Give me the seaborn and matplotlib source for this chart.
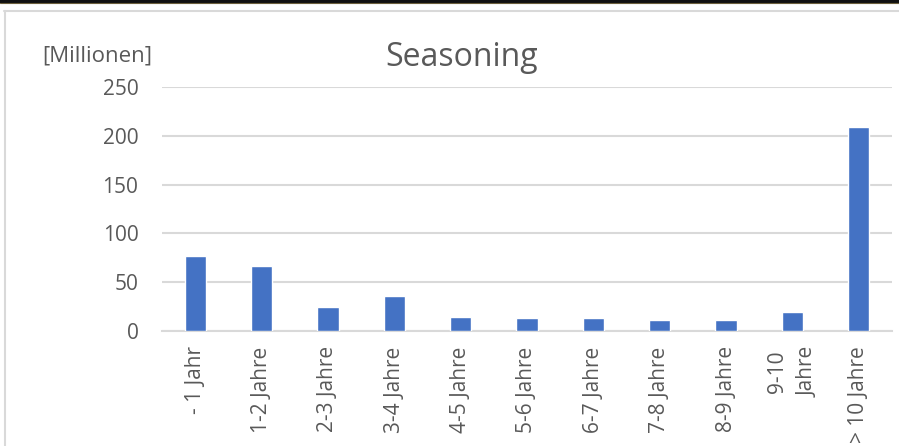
import matplotlib
matplotlib.use("Agg")
import matplotlib.pyplot as plt
import seaborn as sns
import pandas as pd
from matplotlib.lines import Line2D

# data
categories = ["- 1 Jahr", "1-2 Jahre", "2-3 Jahre", "3-4 Jahre", "4-5 Jahre",
              "5-6 Jahre", "6-7 Jahre", "7-8 Jahre", "8-9 Jahre",
              "9-10\nJahre", "> 10 Jahre"]
values = [77, 67, 24.5, 35.5, 14, 13, 13.5, 11.5, 10.8, 19.6, 209]
yticks = [0, 50, 100, 150, 200, 250]

df = pd.DataFrame({"cat": categories, "val": values})

sns.set_style("white")
plt.rcParams["font.family"] = ["Open Sans", "DejaVu Sans"]

text_col = "#595959"
grid_col = "#d9d9d9"

fig = plt.figure(figsize=(8.99, 4.46), dpi=100)
ax = fig.add_axes([162 / 899, 1 - 331 / 446, (892 - 162) / 899, (331 - 87) / 446])

sns.barplot(data=df, x="cat", y="val", color="#4472c4", width=0.32,
            saturation=1, ax=ax, zorder=3)

ax.set_ylim(0, 250)
ax.set_yticks(yticks)
ax.set_xlim(-0.5, len(categories) - 0.5)
ax.yaxis.grid(True, color=grid_col, linewidth=1.5, zorder=0)
ax.set_axisbelow(True)
for s in ["top", "right", "left"]:
    ax.spines[s].set_visible(False)
ax.spines["bottom"].set_color(grid_col)
ax.spines["bottom"].set_linewidth(1.5)
ax.set_xlabel("")
ax.set_ylabel("")
ax.tick_params(axis="both", length=0, labelsize=15, colors=text_col)
ax.tick_params(axis="y", pad=17)
ax.tick_params(axis="x", pad=11)
for lab in ax.get_xticklabels():
    lab.set_rotation(90)
    lab.set_va("top")
    lab.set_ha("center")
    lab.set_linespacing(1.6)

fig.text(462 / 899, 1 - 57 / 446, "Seasoning", ha="center", va="center",
         fontsize=23, color=text_col)
fig.text(97 / 899, 1 - 56 / 446, "[Millionen]", ha="center", va="center",
         fontsize=16, color=text_col)

# outer chart frame and dark top border
fig.add_artist(Line2D([4.5 / 899, 4.5 / 899], [0, 1 - 11 / 446],
                      transform=fig.transFigure, color=grid_col, linewidth=1.5))
fig.add_artist(Line2D([4 / 899, 1], [1 - 11 / 446, 1 - 11 / 446],
                      transform=fig.transFigure, color=grid_col, linewidth=1.5))
fig.add_artist(Line2D([0, 1], [1 - 1 / 446, 1 - 1 / 446],
                      transform=fig.transFigure, color="#111111", linewidth=2.5))
fig.add_artist(Line2D([0, 1], [1 - 3 / 446, 1 - 3 / 446],
                      transform=fig.transFigure, color="#6b5e3c", linewidth=0.8))

fig.savefig("out.png", dpi=100)
